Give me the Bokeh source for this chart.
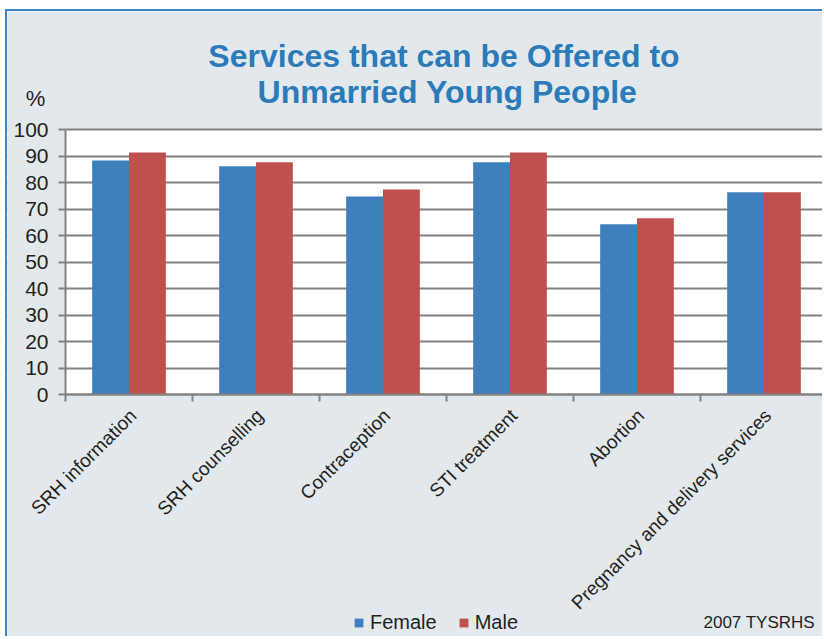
from math import pi
from bokeh.plotting import figure
from bokeh.models import (Range1d, FixedTicker, Label, Legend, LegendItem,
                          ColumnDataSource, BoxAnnotation)
from bokeh.transform import dodge
from bokeh.embed import file_html
from bokeh.resources import INLINE

# ---- data ----
categories = ["SRH information", "SRH counselling", "Contraception",
              "STI treatment", "Abortion", "Pregnancy and delivery services"]
female = [88.3, 86.1, 74.7, 87.6, 64.2, 76.3]
male = [91.3, 87.6, 77.4, 91.3, 66.5, 76.3]
y_ticks = [0, 10, 20, 30, 40, 50, 60, 70, 80, 90, 100]
series_names = ["Female", "Male"]
title_lines = ["Services that can be Offered to", "Unmarried Young People"]
y_unit = "%"
source_note = "2007 TYSRHS"

# ---- styling / layout ----
BG = "#e3e8ec"
BLUE = "#3e80bb"
RED = "#c0504d"
GRID = "#828282"
TXT = "#231f20"
TITLE_C = "#2b7bb9"
FONT = "Liberation Sans"

W, H = 817, 627            # canvas size (whole canvas is the frame)
PLOT_LEFT = 58             # px from canvas left to the value axis
PLOT_TOP = 118             # px from canvas top to the 100 line
PX_PER_CAT = 127
PLOT_H = 265               # px for 0..100
LABEL_SHIFT = 4            # px shift of category labels to the right

n = len(categories)
ymax = y_ticks[-1]
ppu = PLOT_H / ymax
x_start = -PLOT_LEFT / PX_PER_CAT
x_end = (W - PLOT_LEFT) / PX_PER_CAT
y_end = ymax + PLOT_TOP / ppu
y_start = -(H - PLOT_TOP - PLOT_H) / ppu

centers = [i + 0.5 for i in range(n)]
src = ColumnDataSource(dict(x=centers, female=female, male=male))

p = figure(width=W, height=H, x_range=Range1d(x_start, x_end),
           y_range=Range1d(y_start, y_end),
           output_backend="svg", toolbar_location=None, min_border=0,
           background_fill_color=BG, border_fill_color=BG,
           outline_line_color=None)
p.styles = {"margin-left": "5px", "margin-top": "9px",
            "border-left": "2px solid #3a87c4", "border-top": "2px solid #3a87c4"}

# white plotting area (drawn before the grid)
p.add_layout(BoxAnnotation(left=0, bottom=0, top=ymax, fill_color="white",
                           fill_alpha=1, line_color=None, level="image"))

p.xgrid.visible = False
p.ygrid.ticker = FixedTicker(ticks=y_ticks)
p.ygrid.grid_line_color = GRID
p.ygrid.grid_line_width = 2
# hide grid lines left of the value axis
p.add_layout(BoxAnnotation(right=0, fill_color=BG, fill_alpha=1, line_color=None,
                           level="underlay"))

bw = 0.29
r_f = p.vbar(x=dodge("x", -bw / 2, range=p.x_range), top="female", width=bw,
             source=src, fill_color=BLUE, line_color=None)
r_m = p.vbar(x=dodge("x", bw / 2, range=p.x_range), top="male", width=bw,
             source=src, fill_color=RED, line_color=None)

# x axis: category labels at centres, ticks at category boundaries
label_pos = [c + LABEL_SHIFT / PX_PER_CAT for c in centers]
xa = p.xaxis[0]
xa.fixed_location = 0
xa.bounds = (0, n)
xa.ticker = FixedTicker(ticks=label_pos, minor_ticks=list(range(n + 1)))
xa.major_label_overrides = {float(c): cat for c, cat in zip(label_pos, categories)}
xa.major_tick_out = 0
xa.major_tick_in = 0
xa.minor_tick_out = 7
xa.minor_tick_in = 0
xa.minor_tick_line_color = GRID
xa.minor_tick_line_width = 2
xa.major_label_orientation = pi / 4
xa.major_label_standoff = 11
xa.major_label_text_font = FONT
xa.major_label_text_font_size = "19px"
xa.major_label_text_color = TXT
xa.axis_line_color = GRID
xa.axis_line_width = 2

ya = p.yaxis[0]
ya.fixed_location = 0
ya.bounds = (0, ymax)
ya.ticker = FixedTicker(ticks=y_ticks)
ya.major_tick_out = 7
ya.major_tick_in = 0
ya.minor_tick_out = 0
ya.minor_tick_in = 0
ya.major_tick_line_color = GRID
ya.major_tick_line_width = 2
ya.major_label_standoff = 10
ya.major_label_text_font = FONT
ya.major_label_text_font_size = "21px"
ya.major_label_text_color = TXT
ya.axis_line_color = GRID
ya.axis_line_width = 2

# texts (screen px from canvas left / bottom)
def lab(x, y, text, size, align="center", bold=False, color=TXT):
    p.add_layout(Label(x=x, y=y, x_units="screen", y_units="screen", text=text,
                       text_align=align, text_baseline="alphabetic",
                       text_font=FONT, text_font_size=size,
                       text_font_style="bold" if bold else "normal",
                       text_color=color))

lab(436.5, H - 44, title_lines[0], "32px", bold=True, color=TITLE_C)
lab(440, H - 80, title_lines[1], "32px", bold=True, color=TITLE_C)
lab(28, H - 87, y_unit, "22px")
lab(696, 16, source_note, "17px", align="left")

legend = Legend(items=[LegendItem(label=series_names[0], renderers=[r_f]),
                       LegendItem(label=series_names[1], renderers=[r_m])],
                orientation="horizontal", location=(346, 4.5),
                border_line_color=None, background_fill_alpha=0,
                padding=0, margin=0, glyph_width=11, glyph_height=11,
                label_standoff=6, spacing=21, label_height=11,
                label_text_font=FONT, label_text_font_size="20px",
                label_text_color=TXT)
p.add_layout(legend)

open("out.html", "w").write(file_html(p, INLINE))
